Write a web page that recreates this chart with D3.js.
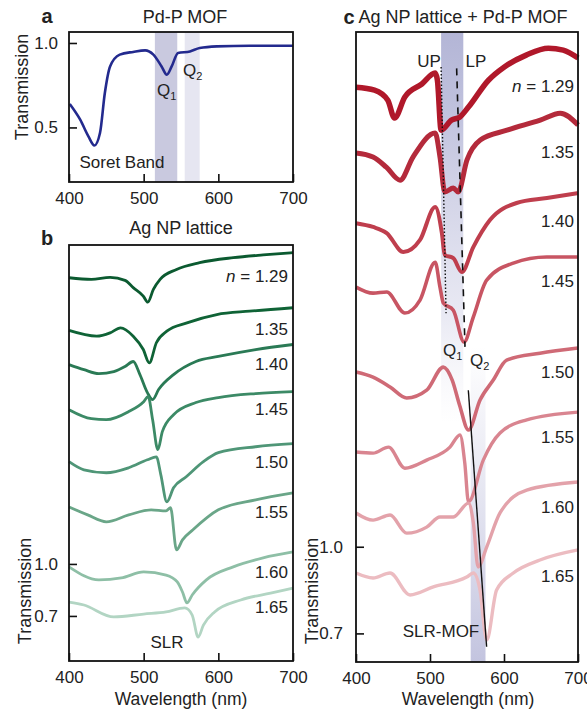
<!DOCTYPE html>
<html>
<head>
<meta charset="utf-8">
<script src="https://cdn.jsdelivr.net/npm/d3@7"></script>
<style>
  body { margin: 0; background: #fff; }
  svg text { font-family: "Liberation Sans", Arial, sans-serif; fill: #222; }
</style>
</head>
<body>
<script>
// ---- data ----
const xTicks = [400, 500, 600, 700];
const q1Band = [515, 545];
const q2Band = [555, 575];

// a: Pd-P MOF transmission
const mofWl = [401, 415, 426, 434, 441.5, 448, 455, 468, 486, 502, 513, 524, 531, 537.5, 546, 562, 575, 598, 642, 700];
const mofT  = [0.639, 0.546, 0.447, 0.393, 0.467, 0.704, 0.861, 0.931, 0.947, 0.956, 0.931, 0.861, 0.812, 0.861, 0.941, 0.950, 0.970, 0.980, 0.984, 0.984];

const nLabels = ["1.29", "1.35", "1.40", "1.45", "1.50", "1.55", "1.60", "1.65"];

// b: Ag NP lattice, offset transmission per n
const latticeWl = [
  [400, 430, 455, 475, 486, 499.5, 505.5, 513, 522, 544, 575, 620, 660, 700],
  [400, 437, 455, 469, 486, 499.5, 507.5, 517, 531, 558, 598, 642, 700],
  [400, 420, 440, 460, 475, 486, 495, 505, 512, 520, 540, 570, 600, 650, 700],
  [400, 430, 450, 480, 500, 506, 512, 519, 525, 540, 570, 600, 650, 700],
  [400, 420, 450, 480, 505, 517, 523, 531, 540, 557, 580, 600, 650, 700],
  [400, 425, 450, 480, 510, 530, 536, 544, 552, 566, 600, 650, 700],
  [400, 440, 470, 500, 530, 545, 552, 558, 565, 584, 620, 660, 700],
  [400, 420, 460, 500, 530, 555, 565, 573, 580, 595, 630, 670, 700]
];
const latticeT = [
  [2.651, 2.642, 2.653, 2.636, 2.594, 2.545, 2.510, 2.584, 2.642, 2.699, 2.738, 2.767, 2.783, 2.796],
  [2.347, 2.314, 2.333, 2.362, 2.314, 2.237, 2.160, 2.276, 2.343, 2.391, 2.439, 2.458, 2.478],
  [2.150, 2.121, 2.098, 2.110, 2.139, 2.168, 2.092, 1.988, 1.948, 2.006, 2.092, 2.168, 2.197, 2.237, 2.266],
  [1.890, 1.838, 1.832, 1.879, 1.936, 1.965, 1.832, 1.659, 1.763, 1.861, 1.931, 1.960, 1.983, 1.994],
  [1.590, 1.543, 1.526, 1.555, 1.601, 1.618, 1.514, 1.358, 1.439, 1.503, 1.590, 1.642, 1.676, 1.694],
  [1.329, 1.283, 1.243, 1.283, 1.312, 1.306, 1.324, 1.081, 1.139, 1.197, 1.312, 1.370, 1.410],
  [0.983, 0.908, 0.919, 0.954, 0.936, 0.896, 0.838, 0.775, 0.821, 0.908, 0.983, 1.035, 1.069],
  [0.780, 0.763, 0.694, 0.711, 0.723, 0.746, 0.705, 0.578, 0.647, 0.723, 0.792, 0.832, 0.861]
];

// c: Ag NP lattice + Pd-P MOF, offset transmission per n
const hybridWl = [
  [400, 425, 443, 452, 466, 489, 507, 510, 515, 529, 540, 552, 579, 600, 630, 660, 680, 700],
  [400, 423, 441, 459.5, 477, 507, 513.5, 520, 531.5, 538, 550, 568, 604, 649, 676, 700],
  [400, 423, 441.5, 464, 486.5, 507, 516, 520, 531.5, 543, 558.5, 581, 617, 658, 700],
  [400, 423, 441.5, 466, 486.5, 507, 513.5, 518, 531.5, 546, 558.5, 576.6, 612.6, 657.7, 700],
  [400, 423, 446, 468.5, 495.5, 518, 530, 540, 552, 567.6, 585.5, 603.6, 648.6, 700],
  [400, 423, 444, 466, 495.5, 527, 540.5, 547, 552, 572, 594.6, 630.7, 700],
  [400, 423, 446, 468.5, 495.5, 513.5, 531.5, 552, 558.6, 565, 576.6, 594.6, 630.7, 700],
  [400, 423, 446, 473, 504.5, 549.6, 558.6, 567.6, 576.6, 590, 612.6, 648.6, 700]
];
const hybridT = [
  [2.591, 2.581, 2.546, 2.484, 2.557, 2.602, 2.640, 2.615, 2.442, 2.477, 2.487, 2.522, 2.615, 2.660, 2.702, 2.726, 2.719, 2.692],
  [2.363, 2.349, 2.314, 2.269, 2.349, 2.432, 2.349, 2.228, 2.242, 2.228, 2.339, 2.408, 2.442, 2.477, 2.501, 2.460],
  [2.120, 2.107, 2.086, 2.020, 2.062, 2.176, 2.086, 2.010, 1.999, 1.951, 2.037, 2.131, 2.190, 2.207, 2.224],
  [1.899, 1.878, 1.882, 1.809, 1.854, 1.985, 1.899, 1.844, 1.819, 1.709, 1.795, 1.923, 1.982, 2.003, 2.003],
  [1.605, 1.587, 1.553, 1.515, 1.542, 1.622, 1.577, 1.490, 1.404, 1.508, 1.577, 1.646, 1.670, 1.688],
  [1.328, 1.324, 1.345, 1.272, 1.300, 1.345, 1.387, 1.290, 1.155, 1.300, 1.394, 1.439, 1.466],
  [1.117, 1.092, 1.110, 1.047, 1.068, 1.103, 1.103, 1.151, 1.082, 0.930, 0.999, 1.117, 1.196, 1.224],
  [0.909, 0.892, 0.909, 0.833, 0.861, 0.895, 0.909, 0.850, 0.677, 0.850, 0.909, 0.954, 0.989]
];

// guide lines in c: [wavelength, value] ends
const upLine  = [[515, 2.661], [521.7, 1.808]];
const lpLine  = [[536, 2.656], [547.3, 1.692]];
const slrLine = [[551.8, 1.542], [576.5, 0.654]];

const greens = ["#0b5a30", "#0f6336", "#2a7a55", "#3c8a66", "#4f9677", "#6aa688", "#8ebfa6", "#b2d5c3"];
const reds   = ["#b0182a", "#b42a3b", "#bf3e4d", "#c85563", "#cf6a76", "#d98590", "#e3a2aa", "#ecbcc1"];
const redWidth = [5.5, 5, 4, 3.6, 3.6, 3.4, 3.4, 3.4];

const svg = d3.select("body").append("svg")
  .attr("width", 587)
  .attr("height", 713);

const defs = svg.append("defs");

function addGrad(id, stops) {
  const g = defs.append("linearGradient")
    .attr("id", id)
    .attr("gradientUnits", "userSpaceOnUse")
    .attr("x1", 0).attr("x2", 0).attr("y1", 32).attr("y2", 662);
  stops.forEach(s => g.append("stop")
    .attr("offset", s[0]).attr("stop-color", s[1]).attr("stop-opacity", s[2]));
}
addGrad("q1grad", [[0, "#b3b5d6", 1], [0.12, "#b8bad9", 0.9], [0.45, "#c8c9e2", 0.4], [0.62, "#dcdcec", 0]]);
addGrad("q2grad", [[0.5, "#c9cae2", 0], [0.72, "#c9cae2", 0.45], [1, "#c3c4df", 1]]);

function axes(g, x, y, yTicks, bottom, left, pad) {
  g.append("g")
    .attr("transform", `translate(0,${bottom})`)
    .call(d3.axisBottom(x).tickValues(xTicks).tickSize(-8).tickPadding(10).tickFormat(d3.format("d")))
    .call(a => a.select(".domain").remove())
    .call(a => a.selectAll("line").attr("stroke", "#111").attr("stroke-width", 1.6))
    .call(a => a.selectAll("text").attr("font-size", 17).attr("fill", "#222")
      .style("font-family", "'Liberation Sans', Arial, sans-serif"));
  g.append("g")
    .attr("transform", `translate(${left},0)`)
    .call(d3.axisLeft(y).tickValues(yTicks).tickSize(-8).tickPadding(pad).tickFormat(d3.format(".1f")))
    .call(a => a.select(".domain").remove())
    .call(a => a.selectAll("line").attr("stroke", "#111").attr("stroke-width", 1.6))
    .call(a => a.selectAll("text").attr("font-size", 17).attr("fill", "#222")
      .style("font-family", "'Liberation Sans', Arial, sans-serif"));
}

function frame(x0, y0, x1, y1) {
  svg.append("rect")
    .attr("x", x0).attr("y", y0)
    .attr("width", x1 - x0).attr("height", y1 - y0)
    .attr("fill", "none")
    .attr("stroke", "#111")
    .attr("stroke-width", 1.8);
}

function text(x, y, s, size, anchor, weight) {
  return svg.append("text")
    .attr("x", x).attr("y", y)
    .attr("font-size", size)
    .attr("text-anchor", anchor || "middle")
    .attr("font-weight", weight || "normal")
    .text(s);
}

function qLabel(x, y, num) {
  const t = svg.append("text").attr("x", x).attr("y", y).attr("font-size", 17);
  t.append("tspan").text("Q");
  t.append("tspan").attr("font-size", 11).attr("dy", 4).text(num);
}

function yTitle(x, y) {
  svg.append("text")
    .attr("transform", `translate(${x},${y}) rotate(-90)`)
    .attr("text-anchor", "middle")
    .attr("font-size", 18)
    .text("Transmission");
}

function nLabel(x, y, s, first) {
  const t = svg.append("text").attr("x", x).attr("y", y)
    .attr("font-size", 17).attr("text-anchor", "end");
  if (first) {
    t.append("tspan").attr("font-style", "italic").text("n");
    t.append("tspan").text(" = " + s);
  } else {
    t.text(s);
  }
}

// ---------- panel a ----------
const xa = d3.scaleLinear().domain([400, 700]).range([69, 293]);
const ya = d3.scaleLinear().domain([0.177, 1.065]).range([182, 32]);

svg.append("rect")
  .attr("x", xa(q1Band[0])).attr("y", 32)
  .attr("width", xa(q1Band[1]) - xa(q1Band[0])).attr("height", 150)
  .attr("fill", "#c9c9df");
svg.append("rect")
  .attr("x", xa(q2Band[0])).attr("y", 32)
  .attr("width", xa(q2Band[1]) - xa(q2Band[0])).attr("height", 150)
  .attr("fill", "#e6e6f1");

const lineA = d3.line()
  .x((d, i) => xa(mofWl[i]))
  .y(d => ya(d))
  .curve(d3.curveMonotoneX);

svg.append("path")
  .attr("d", lineA(mofT))
  .attr("fill", "none")
  .attr("stroke", "#232a8e")
  .attr("stroke-width", 2.6);

axes(svg.append("g"), xa, ya, [0.5, 1.0], 182, 69, 11);
frame(69, 32, 293, 182);

text(47, 23, "a", 20, "middle", "bold");
text(185, 23, "Pd-P MOF", 18);
yTitle(28, 87);
qLabel(157, 96, "1");
qLabel(183, 76, "2");
text(122, 168, "Soret Band", 17);

// ---------- panel b ----------
const xb = d3.scaleLinear().domain([400, 700]).range([69, 293]);
const yb = d3.scaleLinear().domain([0.44, 2.84]).range([661, 245]);

latticeT.forEach((vals, k) => {
  const line = d3.line()
    .x((d, i) => xb(latticeWl[k][i]))
    .y(d => yb(d))
    .curve(d3.curveMonotoneX);
  svg.append("path")
    .attr("d", line(vals))
    .attr("fill", "none")
    .attr("stroke", greens[k])
    .attr("stroke-width", 2.8);
});

axes(svg.append("g"), xb, yb, [0.7, 1.0], 661, 69, 11);
frame(69, 245, 293, 661);

text(47, 245, "b", 20, "middle", "bold");
text(181, 234, "Ag NP lattice", 18);
yTitle(31, 591);
text(181, 705, "Wavelength (nm)", 17.5);
const bLabelY = [282, 335, 370, 415, 468, 518, 578, 613];
nLabels.forEach((s, k) => nLabel(288, bLabelY[k], s, k === 0));
text(167, 648, "SLR", 17);

// ---------- panel c ----------
const xc = d3.scaleLinear().domain([400, 700]).range([356, 578]);
const yc = d3.scaleLinear().domain([0.601, 2.782]).range([662, 32]);

svg.append("rect")
  .attr("x", xc(q1Band[0])).attr("y", 32)
  .attr("width", xc(q1Band[1]) - xc(q1Band[0])).attr("height", 630)
  .attr("fill", "url(#q1grad)");
svg.append("rect")
  .attr("x", xc(q2Band[0])).attr("y", 32)
  .attr("width", xc(q2Band[1]) - xc(q2Band[0])).attr("height", 630)
  .attr("fill", "url(#q2grad)");

hybridT.forEach((vals, k) => {
  const line = d3.line()
    .x((d, i) => xc(hybridWl[k][i]))
    .y(d => yc(d))
    .curve(d3.curveMonotoneX);
  svg.append("path")
    .attr("d", line(vals))
    .attr("fill", "none")
    .attr("stroke", reds[k])
    .attr("stroke-width", redWidth[k])
    .attr("stroke-linejoin", "round");
});

const guide = d3.line().x(d => xc(d[0])).y(d => yc(d[1]));
svg.append("path").attr("d", guide(upLine))
  .attr("stroke", "#111").attr("stroke-width", 1.4).attr("stroke-dasharray", "1.5,2").attr("fill", "none");
svg.append("path").attr("d", guide(lpLine))
  .attr("stroke", "#111").attr("stroke-width", 1.6).attr("stroke-dasharray", "7,6").attr("fill", "none");
svg.append("path").attr("d", guide(slrLine))
  .attr("stroke", "#111").attr("stroke-width", 1.4).attr("fill", "none");

axes(svg.append("g"), xc, yc, [0.7, 1.0], 662, 356, 13);
frame(356, 32, 578, 662);

text(349, 24, "c", 20, "middle", "bold");
text(463, 23, "Ag NP lattice + Pd-P MOF", 18);
yTitle(318, 591);
text(468, 705, "Wavelength (nm)", 17.5);
text(429, 67, "UP", 17);
text(476, 67, "LP", 17);
const cLabelY = [92, 158, 227, 287, 378, 443, 513, 582];
nLabels.forEach((s, k) => nLabel(574, cLabelY[k], s, k === 0));
qLabel(443, 356, "1");
qLabel(470, 366, "2");
text(441, 637, "SLR-MOF", 17);
</script>
</body>
</html>
